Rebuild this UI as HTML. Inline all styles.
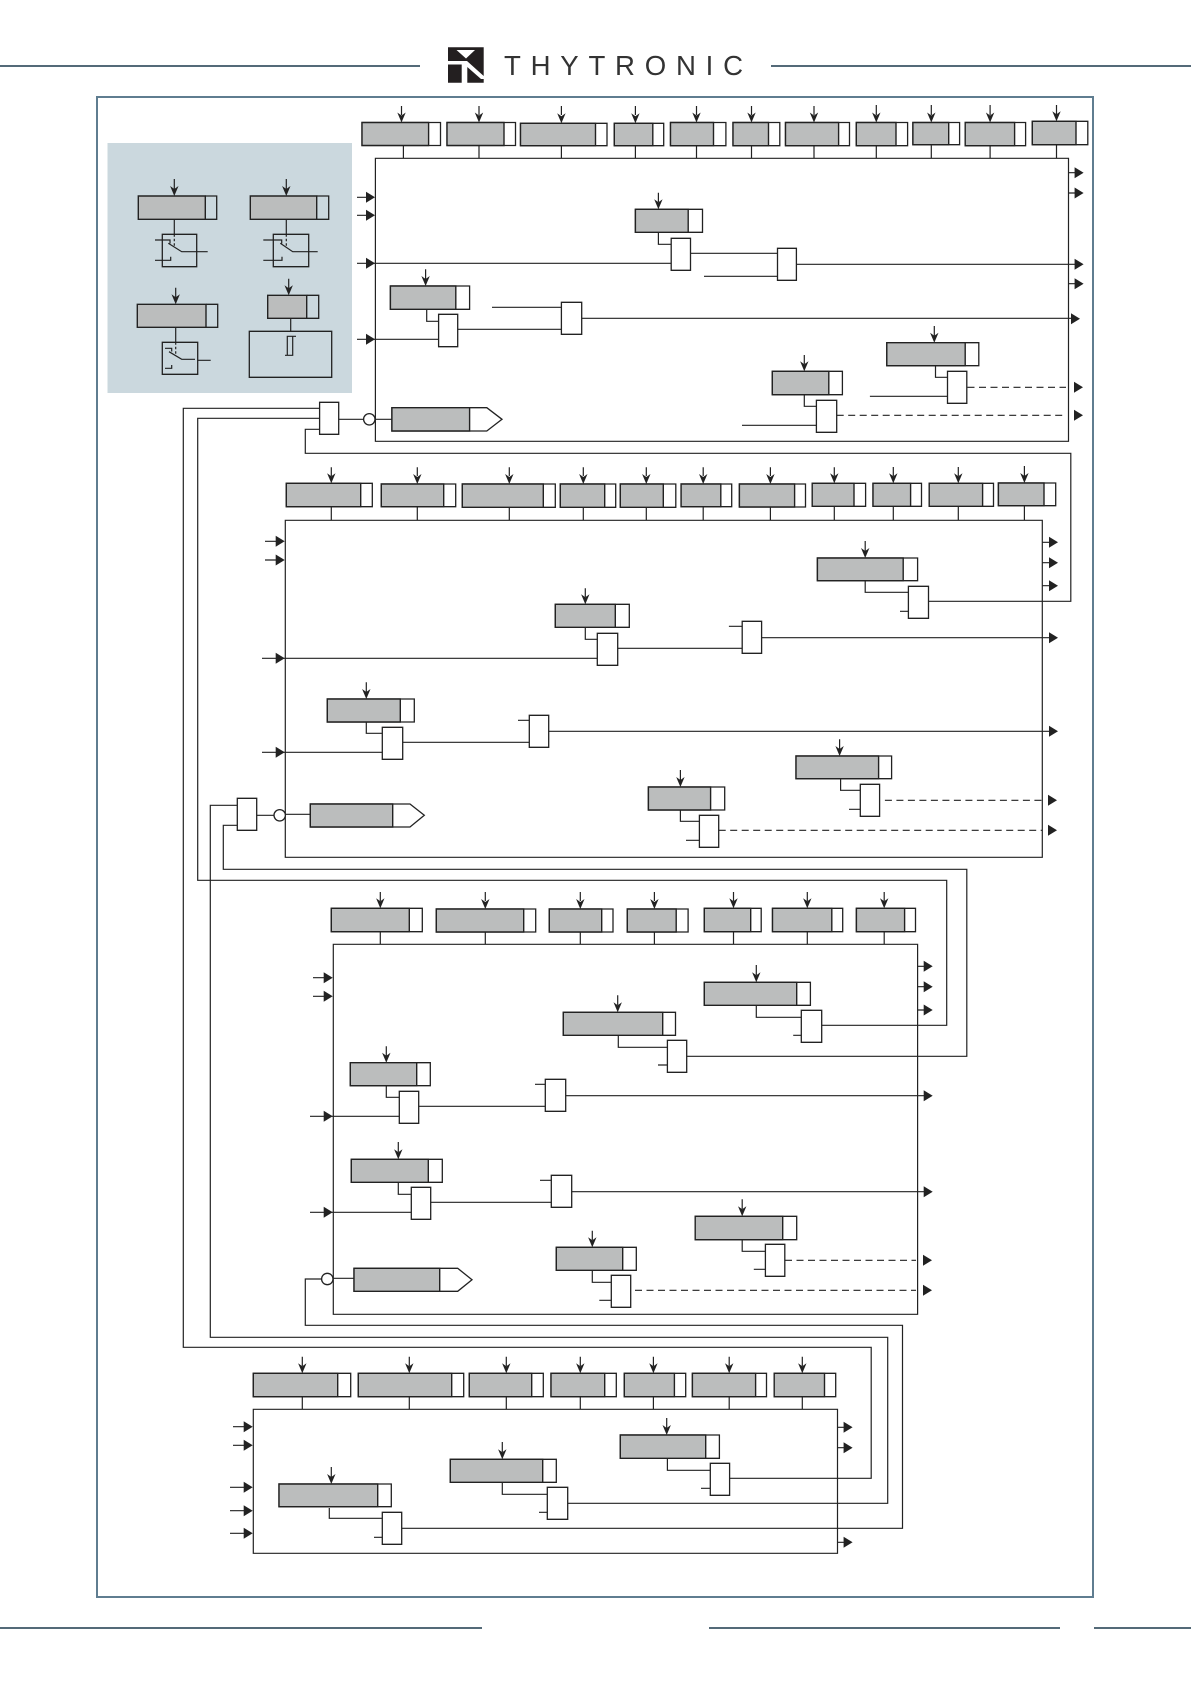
<!DOCTYPE html>
<html><head><meta charset="utf-8"><style>
html,body{margin:0;padding:0;background:#fff}
svg{display:block}
.w{fill:none;stroke:#222;stroke-width:1.2}
.d{fill:none;stroke:#222;stroke-width:1.2;stroke-dasharray:7 4.5}
.b{fill:#fff;stroke:#222;stroke-width:1.3}
.n{fill:none;stroke:#222;stroke-width:1.3}
.g{fill:#bbbdbd;stroke:#222;stroke-width:1.4}
.h{fill:none;stroke:#546a78;stroke-width:2}
use{fill:#222}
</style></head><body>
<svg width="1191" height="1684" viewBox="0 0 1191 1684" xmlns="http://www.w3.org/2000/svg">
<defs>
<path id="r" d="M-9-5.5L0 0-9 5.5Z"/>
<path id="v" d="M0 0L-4.2-10 0-7 4.2-10Z"/>
</defs>
<path class="h" d="M0 66H420M771 66H1191M0 1628H482M709 1628H1060M1094 1628H1191"/>
<path fill="#231f20" fill-rule="evenodd" d="M448 47.3H483.7V76L467 61H448ZM456.5 50H475L466 58.5ZM448 64.5H461.7V82.7H448ZM467.3 67L481 79H483.7V82.7H467.3Z"/>
<text x="504" y="75" font-family="'Liberation Sans',sans-serif" font-size="27.6" fill="#333" textLength="239" lengthAdjust="spacing">THYTRONIC</text>
<rect x="97" y="97" width="996" height="500" fill="none" stroke="none"/>
<path d="M97 97H1093V1597H97Z" fill="none" stroke="#5f7d90" stroke-width="2"/>
<rect x="107.5" y="143" width="244.5" height="250" fill="#cbd8de"/>

<!-- panel -->
<path class="g" d="M138.3 196H205.3V219.3H138.3ZM250.3 196H316.7V219.3H250.3ZM137.3 304.3H206V327.3H137.3ZM267.7 295.3H306.7V318.3H267.7Z"/>
<path class="n" d="M205.3 196H216.7V219.3H205.3M316.7 196H328.7V219.3H316.7M206 304.3H217.7V327.3H206M306.7 295.3H318.7V318.3H306.7M162.3 234.3H196.7V266.7H162.3ZM273.3 234.3H308.7V266.7H273.3ZM162.3 342.3H197.7V374.3H162.3ZM249.3 331.3H331.7V377.3H249.3Z"/>
<path class="w" d="M174.3 179V190M174.3 219.3V234.3M286.3 179V190M286.3 219.3V234.3M175.7 287.7V298M175.7 327.3V342.3M288.7 278.7V289M290.7 318.3V331.3M155 240H170V243.5M155 260.3H170.7V256.7M168.3 243.3L181.7 251.7H207.7M263.3 240H281.7V243.5M263.3 260.3H282V256.7M280.3 243.3L292.7 251.7H317.7M165 348.3H171.7V351.5M165 368.3H171.7V365M169 351.7L181.7 359.3H195M197.7 360.3H210.7M287.3 336.3H292.7V355.3H287.3ZM292.7 336.3H296M287.3 355.3H285"/>
<path d="M174.3 234.3V247M286.3 234.3V247M175.7 342.3V355" fill="none" stroke="#222" stroke-width="1.2" stroke-dasharray="2.5 2"/>

<!-- main frames -->
<path class="w" d="M375.4 158.3H1068.5V441.3H375.4ZM285.3 520.3H1042.3V857.3H285.3ZM333.3 944.3H917.6V1314.3H333.3ZM253.3 1409.3H837.5V1553.3H253.3Z"/>

<!-- wires -->
<path class="w" d="M401.5 106V115M403.4 145.5V158.3M479 106V115M479 145.5V158.3M561.4 106V115M561.4 145.5V158.3M635.4 106V115M635.4 145.5V158.3M696.5 106V115M696.5 145.5V158.3M751.5 106V115M751.5 145.5V158.3M814 106V115M814 145.5V158.3M876.3 105V115M876.3 145.5V158.3M931.3 105V115M931.3 145.5V158.3M990.1 105V115M990.1 145.5V158.3M1056.5 105V115M1056.5 144.7V158.3
M357 197.3H368M357 215.3H368M357 263.3H671.2M357 339.3H438.6M1068.5 172.7H1076M1068.5 193H1076M1068.5 283.7H1076M796.4 264.3H1076M581.7 318.3H1072
M658.4 192.7V202M658.4 232.3V244.3H671.2M690.5 253.3H777.5M704 276.3H777.5M425.6 269.3V279M426.7 309.3V321.3H438.6M457.7 329.3H561.4M492 307.3H561.4
M934.3 326V336M935.5 365.7V377.3H947.5M869.9 396.3H947.5M804.3 355V364M804.3 394.7V406.3H816.4M742 425.3H816.4M338.7 419.3H363.6M375 419.3H391.9
M319.6 408.3H183.3V1347.3H871.2V1478.3H729.6M319.6 418.3H197.7V880.3H946.7V1025.3H821.7M319.6 429.3H305.3V453.3H1070.8V601.3H928.5
M331.3 467.3V476M331.3 506.7V520.3M417.3 467.3V476M417.3 506.7V520.3M509.3 467.3V476M509.3 507V520.3M583.3 467.3V476M583.3 507V520.3M646.3 467.3V476M646.3 507V520.3M703.2 467.3V476M703.2 506.7V520.3M770.4 467.3V476M770.4 507V520.3M834.3 467.3V476M834.3 506.3V520.3M893.3 467V476M893.3 506.3V520.3M958.3 467V476M958.3 506.3V520.3M1024.4 466V476M1024.4 505.7V520.3
M265 541.3H277M265 560H277M262 658.3H597.3M262 752.3H382.3M1042.3 542.3H1050M1042.3 562.7H1050M1042.3 585.7H1050M761.6 637.7H1050M548.7 731.3H1050
M865.2 541V551M865.2 580.7V592.3H908.4M900 611.3H908.4M585.3 588.3V597M585.3 627.3V639.3H597.3M617.7 648.3H742.2M728.9 626.3H742.2M366.3 682.3V692M366.3 722V733.3H382.3M402.7 742.3H529.3M518 720.3H529.3
M839.6 739.3V749M840.6 778.7V790.3H860.3M849 809.3H860.3M680.4 770V780M680.4 810V821.3H699.4M686 840.3H699.4M256.7 815.3H274M285.3 814.3H310.3
M237.3 805.3H210.3V1337.3H887.7V1503.3H567.7M237.3 825.3H223.3V869.3H966.8V1056.3H686.7
M380.3 892V901M380.3 931.7V944.3M485.3 892V901M485.3 932V944.3M580.3 892V901M580.3 932V944.3M654.4 892V901M654.4 932V944.3M733.5 892V901M733.5 931.7V944.3M807.3 892V901M807.3 931.7V944.3M884.2 892V901M884.2 931.7V944.3
M313 977.7H325M313 996.3H325M310 1116.3H399.3M310 1212.3H411.3M917.6 966.3H925M917.6 986.7H925M917.6 1010H925M565.7 1095.7H925M571.7 1191.7H925
M756.3 965V975M756.3 1005.3V1017.3H801.3M793.2 1035.3H801.3M617.7 995.3V1005M618.3 1035.3V1047.3H667.4M658 1065H667.4M386.3 1046.3V1056M386.3 1085.7V1097.3H399.3M418.7 1106.3H545.3M535 1084.3H545.3M398.3 1142V1152M398.3 1182.3V1194.3H411.3M430.7 1202.3H551.3M540 1180.3H551.3
M322 1279H305.3V1325.3H902.5V1528.3H401.7M333.3 1278.3H354M592.3 1230.7V1240M592.3 1270.3V1282.3H611.3M599.3 1300.3H611.3M742.2 1199.3V1209M742.2 1239.7V1251.3H765.4M753.8 1269.3H765.4
M302.3 1356.7V1366M302.3 1396.7V1409.3M409.3 1356.7V1366M409.3 1396.7V1409.3M506.3 1356.7V1366M506.3 1396.7V1409.3M580.3 1356.7V1366M580.3 1396.7V1409.3M653.4 1356.7V1366M653.4 1396.7V1409.3M729.2 1356.7V1366M729.2 1396.7V1409.3M802.3 1356.7V1366M802.3 1396.7V1409.3
M233 1426.7H245M233 1445.3H245M230 1487.3H245M230 1510.7H245M230 1533.3H245M837.5 1427.3H845M837.5 1447.7H845M837.5 1542.3H845
M666.7 1418V1428M667.4 1458.3V1470.3H710.3M701 1488.3H710.3M502.3 1442V1452M502.3 1482.3V1494.3H547.3M539 1512.3H547.3M331.3 1467V1477M329.3 1508V1518.3H382.3M374 1537.3H382.3"/>
<path class="d" d="M967.5 387.3H1066M836.7 415.3H1066M884.9 800.3H1042M718.7 830.3H1042M785 1260.3H916M635 1290.3H916"/>

<!-- white box outlines -->
<path class="b" d="M362 122.5H440.5V145.5H362ZM447 122.5H515.5V145.5H447ZM520.5 123.3H607V145.7H520.5ZM614.3 123.3H663.7V145.7H614.3ZM670.5 122.5H725.9V145.7H670.5ZM733 122.5H779.8V145.7H733ZM785.5 122.5H849.5V145.7H785.5ZM856.3 122.5H907.6V145.7H856.3ZM912.9 122.5H959.6V144.7H912.9ZM965.2 122.5H1025.6V145.7H965.2ZM1032.3 121.3H1087.8V144.7H1032.3Z
M635.4 209.3H702.5V232.3H635.4ZM390.4 286H469.6V309.3H390.4ZM886.8 342.7H978.8V365.7H886.8ZM772.3 371.3H842.4V394.7H772.3Z
M671.2 238.3H690.5V270.3H671.2ZM777.5 248.3H796.4V280.3H777.5ZM438.6 314.3H457.7V346.7H438.6ZM561.4 302.3H581.7V334.3H561.4ZM947.5 371.3H966.8V403.3H947.5ZM816.4 400.3H836.7V432.3H816.4ZM319.6 402.3H338.7V434.3H319.6Z
M391.9 407.7H486.8L502 419.3 486.8 431H391.9Z
M286.3 483.3H372.3V506.7H286.3ZM381.3 484H455.7V506.7H381.3ZM462.3 484H555.3V507.3H462.3ZM560.3 484H615.7V507.3H560.3ZM620.3 484H675.8V507.3H620.3ZM681.1 484H731.7V506.7H681.1ZM739.4 484H805.5V507H739.4ZM812.2 483.3H865.6V506.3H812.2ZM873 483.3H921.5V506.3H873ZM929.2 483.3H993.5V506.3H929.2ZM998.4 483H1055.7V505.7H998.4Z
M817.4 558H917.6V580.7H817.4ZM555.3 604.3H629.3V627.3H555.3ZM327.3 699H414.3V722H327.3ZM796 756H891.6V778.7H796ZM648.4 787H724.7V810H648.4Z
M908.4 586.3H928.5V618.3H908.4ZM597.3 633.3H617.7V665.3H597.3ZM742.2 621.3H761.6V653.3H742.2ZM382.3 727.3H402.7V759.3H382.3ZM529.3 715.3H548.7V747.3H529.3ZM860.3 784.3H879.6V816.3H860.3ZM699.4 815.3H718.7V847.3H699.4ZM237.3 798.3H256.7V830.3H237.3Z
M310.3 804H410L424.3 815.3 410 827H310.3Z
M331.3 908.3H422.3V931.7H331.3ZM436.3 909H535.7V932H436.3ZM549.3 909H613V932H549.3ZM627.3 909H688.1V932H627.3ZM704.3 908.3H761.2V931.7H704.3ZM772.5 908.3H842.7V931.7H772.5ZM856.4 908.3H915.5V931.7H856.4Z
M704.3 982.3H810.4V1005.3H704.3ZM563.3 1012.3H675.5V1035.3H563.3ZM350.3 1062.7H430.3V1085.7H350.3ZM351.3 1159.3H442.3V1182.3H351.3ZM556.3 1247.3H636.3V1270.3H556.3ZM695.2 1216.3H796.7V1239.7H695.2Z
M801.3 1010.3H821.7V1042.3H801.3ZM667.4 1040.3H686.7V1072.3H667.4ZM399.3 1091.3H418.7V1123.3H399.3ZM545.3 1079.3H565.7V1111.3H545.3ZM411.3 1187.3H430.7V1219.3H411.3ZM551.3 1175.3H571.7V1207.3H551.3ZM611.3 1275.3H630.7V1307.3H611.3ZM765.4 1244.3H784.8V1276.3H765.4Z
M354 1268.3H457.7L472 1279.7 457.7 1291.3H354Z
M253.3 1373.3H350.7V1396.7H253.3ZM358.3 1373.3H463.7V1396.7H358.3ZM469.3 1373.3H543.3V1396.7H469.3ZM551 1373.3H616.3V1396.7H551ZM624.3 1373.3H685.7V1396.7H624.3ZM692.4 1373.3H766.5V1396.7H692.4ZM774.2 1373.3H835.7V1396.7H774.2Z
M620.3 1435H719.4V1458.3H620.3ZM450.3 1459.3H556.3V1482.3H450.3ZM279 1484H391.3V1506.7H279Z
M710.3 1463.3H729.6V1495.3H710.3ZM547.3 1487.3H567.7V1519.3H547.3ZM382.3 1512.3H401.7V1544.3H382.3Z"/>
<circle cx="369.3" cy="419.3" r="5.7" class="b"/>
<circle cx="279.7" cy="815.3" r="5.7" class="b"/>
<circle cx="327.3" cy="1279" r="5.7" class="b"/>

<!-- grey parts -->
<path class="g" d="M362 122.5H428.6V145.5H362ZM447 122.5H504V145.5H447ZM520.5 123.3H595.5V145.7H520.5ZM614.3 123.3H652.8V145.7H614.3ZM670.5 122.5H713.5V145.7H670.5ZM733 122.5H768.5V145.7H733ZM785.5 122.5H838.6V145.7H785.5ZM856.3 122.5H896V145.7H856.3ZM912.9 122.5H948.7V144.7H912.9ZM965.2 122.5H1014.6V145.7H965.2ZM1032.3 121.3H1076V144.7H1032.3Z
M635.4 209.3H688.2V232.3H635.4ZM390.4 286H455.8V309.3H390.4ZM886.8 342.7H965.2V365.7H886.8ZM772.3 371.3H828.8V394.7H772.3ZM391.9 407.7H469.6V431H391.9Z
M286.3 483.3H360.7V506.7H286.3ZM381.3 484H443.7V506.7H381.3ZM462.3 484H543.3V507.3H462.3ZM560.3 484H604.7V507.3H560.3ZM620.3 484H663.3V507.3H620.3ZM681.1 484H720.8V506.7H681.1ZM739.4 484H794.6V507H739.4ZM812.2 483.3H854V506.3H812.2ZM873 483.3H910.6V506.3H873ZM929.2 483.3H982.6V506.3H929.2ZM998.4 483H1044V505.7H998.4Z
M817.4 558H903.2V580.7H817.4ZM555.3 604.3H615.3V627.3H555.3ZM327.3 699H400.3V722H327.3ZM796 756H878.6V778.7H796ZM648.4 787H710.6V810H648.4ZM310.3 804H392.7V827H310.3Z
M331.3 908.3H409.3V931.7H331.3ZM436.3 909H523.7V932H436.3ZM549.3 909H601.7V932H549.3ZM627.3 909H676.2V932H627.3ZM704.3 908.3H750.7V931.7H704.3ZM772.5 908.3H831.8V931.7H772.5ZM856.4 908.3H904.6V931.7H856.4Z
M704.3 982.3H796.7V1005.3H704.3ZM563.3 1012.3H662.7V1035.3H563.3ZM350.3 1062.7H416.7V1085.7H350.3ZM351.3 1159.3H428.3V1182.3H351.3ZM556.3 1247.3H622.7V1270.3H556.3ZM695.2 1216.3H782.7V1239.7H695.2ZM354 1268.3H439.7V1291.3H354Z
M253.3 1373.3H337.7V1396.7H253.3ZM358.3 1373.3H451.7V1396.7H358.3ZM469.3 1373.3H531.7V1396.7H469.3ZM551 1373.3H604.7V1396.7H551ZM624.3 1373.3H674.4V1396.7H624.3ZM692.4 1373.3H755.6V1396.7H692.4ZM774.2 1373.3H824.5V1396.7H774.2Z
M620.3 1435H705.7V1458.3H620.3ZM450.3 1459.3H542.7V1482.3H450.3ZM279 1484H377.7V1506.7H279Z"/>

<!-- down arrows -->
<g>
<use href="#v" x="174.3" y="196"/><use href="#v" x="286.3" y="196"/><use href="#v" x="175.7" y="304.3"/><use href="#v" x="288.7" y="295.3"/>
<use href="#v" x="401.5" y="122.5"/><use href="#v" x="479" y="122.5"/><use href="#v" x="561.4" y="123.3"/><use href="#v" x="635.4" y="123.3"/><use href="#v" x="696.5" y="122.5"/><use href="#v" x="751.5" y="122.5"/><use href="#v" x="814" y="122.5"/><use href="#v" x="876.3" y="122.5"/><use href="#v" x="931.3" y="122.5"/><use href="#v" x="990.1" y="122.5"/><use href="#v" x="1056.5" y="121.3"/>
<use href="#v" x="658.4" y="209.3"/><use href="#v" x="425.6" y="286"/><use href="#v" x="934.3" y="342.7"/><use href="#v" x="804.3" y="371.3"/>
<use href="#v" x="331.3" y="483.3"/><use href="#v" x="417.3" y="484"/><use href="#v" x="509.3" y="484"/><use href="#v" x="583.3" y="484"/><use href="#v" x="646.3" y="484"/><use href="#v" x="703.2" y="484"/><use href="#v" x="770.4" y="484"/><use href="#v" x="834.3" y="483.3"/><use href="#v" x="893.3" y="483.3"/><use href="#v" x="958.3" y="483.3"/><use href="#v" x="1024.4" y="483"/>
<use href="#v" x="865.2" y="558"/><use href="#v" x="585.3" y="604.3"/><use href="#v" x="366.3" y="699"/><use href="#v" x="839.6" y="756"/><use href="#v" x="680.4" y="787"/>
<use href="#v" x="380.3" y="908.3"/><use href="#v" x="485.3" y="909"/><use href="#v" x="580.3" y="909"/><use href="#v" x="654.4" y="909"/><use href="#v" x="733.5" y="908.3"/><use href="#v" x="807.3" y="908.3"/><use href="#v" x="884.2" y="908.3"/>
<use href="#v" x="756.3" y="982.3"/><use href="#v" x="617.7" y="1012.3"/><use href="#v" x="386.3" y="1062.7"/><use href="#v" x="398.3" y="1159.3"/><use href="#v" x="592.3" y="1247.3"/><use href="#v" x="742.2" y="1216.3"/>
<use href="#v" x="302.3" y="1373.3"/><use href="#v" x="409.3" y="1373.3"/><use href="#v" x="506.3" y="1373.3"/><use href="#v" x="580.3" y="1373.3"/><use href="#v" x="653.4" y="1373.3"/><use href="#v" x="729.2" y="1373.3"/><use href="#v" x="802.3" y="1373.3"/>
<use href="#v" x="666.7" y="1435"/><use href="#v" x="502.3" y="1459.3"/><use href="#v" x="331.3" y="1484"/>
</g>
<!-- right arrows -->
<g>
<use href="#r" x="375" y="197.3"/><use href="#r" x="375" y="215.3"/><use href="#r" x="375" y="263.3"/><use href="#r" x="375" y="339.3"/>
<use href="#r" x="1083.6" y="172.7"/><use href="#r" x="1083.6" y="193"/><use href="#r" x="1083.6" y="264.3"/><use href="#r" x="1083.6" y="283.7"/><use href="#r" x="1080" y="318.7"/><use href="#r" x="1083" y="387.3"/><use href="#r" x="1083" y="415.3"/>
<use href="#r" x="284.7" y="541.3"/><use href="#r" x="284.7" y="560"/><use href="#r" x="284.7" y="658.3"/><use href="#r" x="284.7" y="752.3"/>
<use href="#r" x="1058" y="542.3"/><use href="#r" x="1058" y="562.7"/><use href="#r" x="1058" y="585.7"/><use href="#r" x="1058" y="637.7"/><use href="#r" x="1058" y="731.3"/><use href="#r" x="1057" y="800.3"/><use href="#r" x="1057" y="830.3"/>
<use href="#r" x="332.7" y="977.7"/><use href="#r" x="332.7" y="996.3"/><use href="#r" x="332.7" y="1116.3"/><use href="#r" x="332.7" y="1212.3"/>
<use href="#r" x="932.7" y="966.3"/><use href="#r" x="932.7" y="986.7"/><use href="#r" x="932.7" y="1010"/><use href="#r" x="932.7" y="1095.7"/><use href="#r" x="932.7" y="1191.7"/><use href="#r" x="932" y="1260.3"/><use href="#r" x="932" y="1290.3"/>
<use href="#r" x="252.7" y="1426.7"/><use href="#r" x="252.7" y="1445.3"/><use href="#r" x="252.7" y="1487.3"/><use href="#r" x="252.7" y="1510.7"/><use href="#r" x="252.7" y="1533.3"/>
<use href="#r" x="852.6" y="1427.3"/><use href="#r" x="852.6" y="1447.7"/><use href="#r" x="852.6" y="1542.3"/>
</g>
</svg>
</body></html>
